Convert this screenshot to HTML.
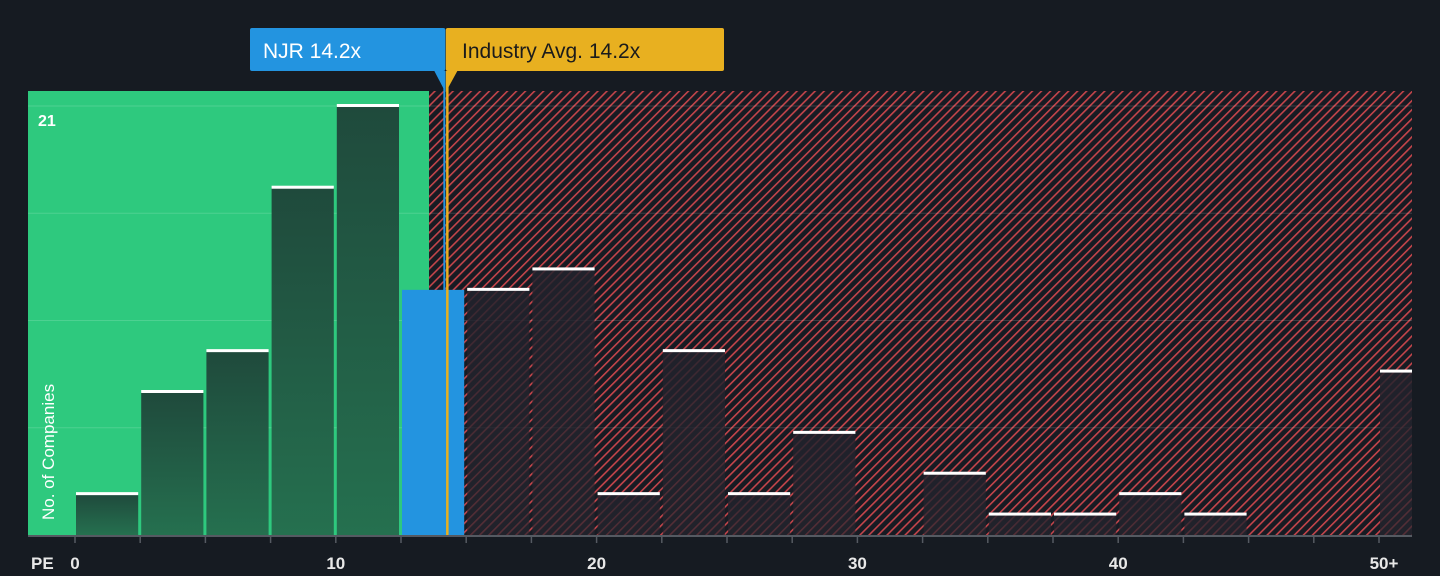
<!DOCTYPE html>
<html><head><meta charset="utf-8"><style>
body{margin:0;background:#161b22;width:1440px;height:571px;overflow:hidden;font-family:"Liberation Sans",sans-serif}
</style></head><body>
<svg id="chart" width="1440" height="571" xmlns="http://www.w3.org/2000/svg">
<defs>
<pattern id="hatch" width="6.4" height="6.4" patternUnits="userSpaceOnUse" patternTransform="rotate(45)">
<rect width="6.4" height="6.4" fill="#171b23"/><rect width="1.6" height="6.4" fill="#c5454b"/>
</pattern>
<linearGradient id="gg" x1="0" y1="0" x2="0" y2="1"><stop offset="0" stop-color="#1f4a3c"/><stop offset="1" stop-color="#25704f"/></linearGradient>
<linearGradient id="rg" x1="0" y1="0" x2="0" y2="1"><stop offset="0" stop-color="#22222c" stop-opacity="0.85"/><stop offset="1" stop-color="#25252e" stop-opacity="0.7"/></linearGradient>
</defs>
<g id="bg"></g>
<g id="bars"></g>
<g id="axis"></g>
</svg>
<script>
const binStarts=[0,2.5,5,7.5,10,12.5,15,17.5,20,22.5,25,27.5,30,32.5,35,37.5,40,42.5,45,47.5,50];
const counts=[2,7,9,17,21,12,12,13,2,9,2,5,0,3,1,1,2,1,0,0,8];
const xTicks=[0,10,20,30,40,50];
const xTickLabels=["0","10","20","30","40","50+"];
const njrPE=14.2, industryPE=14.2;
const yMax=21;
const NS="http://www.w3.org/2000/svg";
const x0=75,pxPerUnit=26.08,base=535,top21=106;
const X=v=>x0+v*pxPerUnit;
const Y=v=>base-v*(base-top21)/yMax;
function mk(tag,attrs,parent,txt){const e=document.createElementNS(NS,tag);for(const k in attrs)e.setAttribute(k,attrs[k]);if(txt!==undefined)e.textContent=txt;parent.appendChild(e);return e;}
const bg=document.getElementById('bg'),bars=document.getElementById('bars'),axis=document.getElementById('axis');
const splitX=429;
let r=mk('rect',{x:28,y:91,width:splitX-28,height:base-91,fill:'#2ec97e'},bg);

r=mk('rect',{x:splitX,y:91,width:1412-splitX,height:base-91,fill:'url(#hatch)'},bg);

[5.25,10.5,15.75,21].forEach(v=>{const l=mk('line',{x1:28,x2:1412,y1:Y(v),y2:Y(v),stroke:'rgba(255,255,255,0.15)','stroke-width':1},bg);});
binStarts.forEach((s,i)=>{
 const c=counts[i];const last=i===binStarts.length-1;
 const xl=X(s)+1, w=last?1412-xl:2.5*pxPerUnit-3;
 const inBlue=s<=njrPE&&njrPE<s+2.5;
 const green=X(s+2.5)<=splitX+2;
 const fill=inBlue?'#2394e0':(green?'url(#gg)':'url(#rg)');
 if(c>0){
  const b=mk('rect',{x:xl,y:Y(c),width:w,height:base-Y(c),fill:fill},bars);
  
  if(!inBlue){const t=mk('rect',{x:xl,y:Y(c)-2,width:w,height:3,fill:'#ffffff'},bars);}
 }
});
let l=mk('line',{x1:28,x2:1412,y1:base+1,y2:base+1,stroke:'#555a62','stroke-width':2},axis);
binStarts.forEach(s=>{const t=mk('line',{x1:X(s),x2:X(s),y1:base+2,y2:base+8,stroke:'#555a62','stroke-width':1.5},axis);});
xTicks.forEach((v,i)=>{const t=mk('text',{x:X(v)+(v===50?5:0),y:569,fill:'#e8e8e8','font-size':17,'font-weight':'bold','text-anchor':'middle'},axis,xTickLabels[i]);});
let t=mk('text',{x:31,y:569,fill:'#e8e8e8','font-size':17,'font-weight':'bold'},axis,'PE');
t=mk('text',{x:38,y:126,fill:'#ffffff','font-size':16,'font-weight':'bold'},axis,'21');
t=mk('text',{x:0,y:0,fill:'#ffffff','font-size':17,transform:'translate(54,520) rotate(-90)'},axis,'No. of Companies');
const nx=X(njrPE)-1, ix=X(industryPE)+2;
l=mk('line',{x1:nx,x2:nx,y1:71,y2:base,stroke:'#2394e0','stroke-width':2},axis);
l=mk('line',{x1:ix,x2:ix,y1:71,y2:base,stroke:'#e8b020','stroke-width':2.5},axis);
let g=mk('g',{},axis);
mk('rect',{x:250,y:28,width:nx+1-250,height:43,fill:'#2394e0',rx:2},g);
mk('polygon',{points:`${nx-10},71 ${nx+1},71 ${nx+1},92`,fill:'#2394e0'},g);
mk('text',{x:263,y:58,fill:'#ffffff','font-size':21},g,'NJR 14.2x');
g=mk('g',{},axis);
mk('rect',{x:ix-1.5,y:28,width:724-ix+1.5,height:43,fill:'#e8b020',rx:2},g);
mk('polygon',{points:`${ix-1.5},71 ${ix+10},71 ${ix-1.5},92`,fill:'#e8b020'},g);
mk('text',{x:462,y:58,fill:'#1b1b1b','font-size':21},g,'Industry Avg. 14.2x');
</script>
</body></html>
